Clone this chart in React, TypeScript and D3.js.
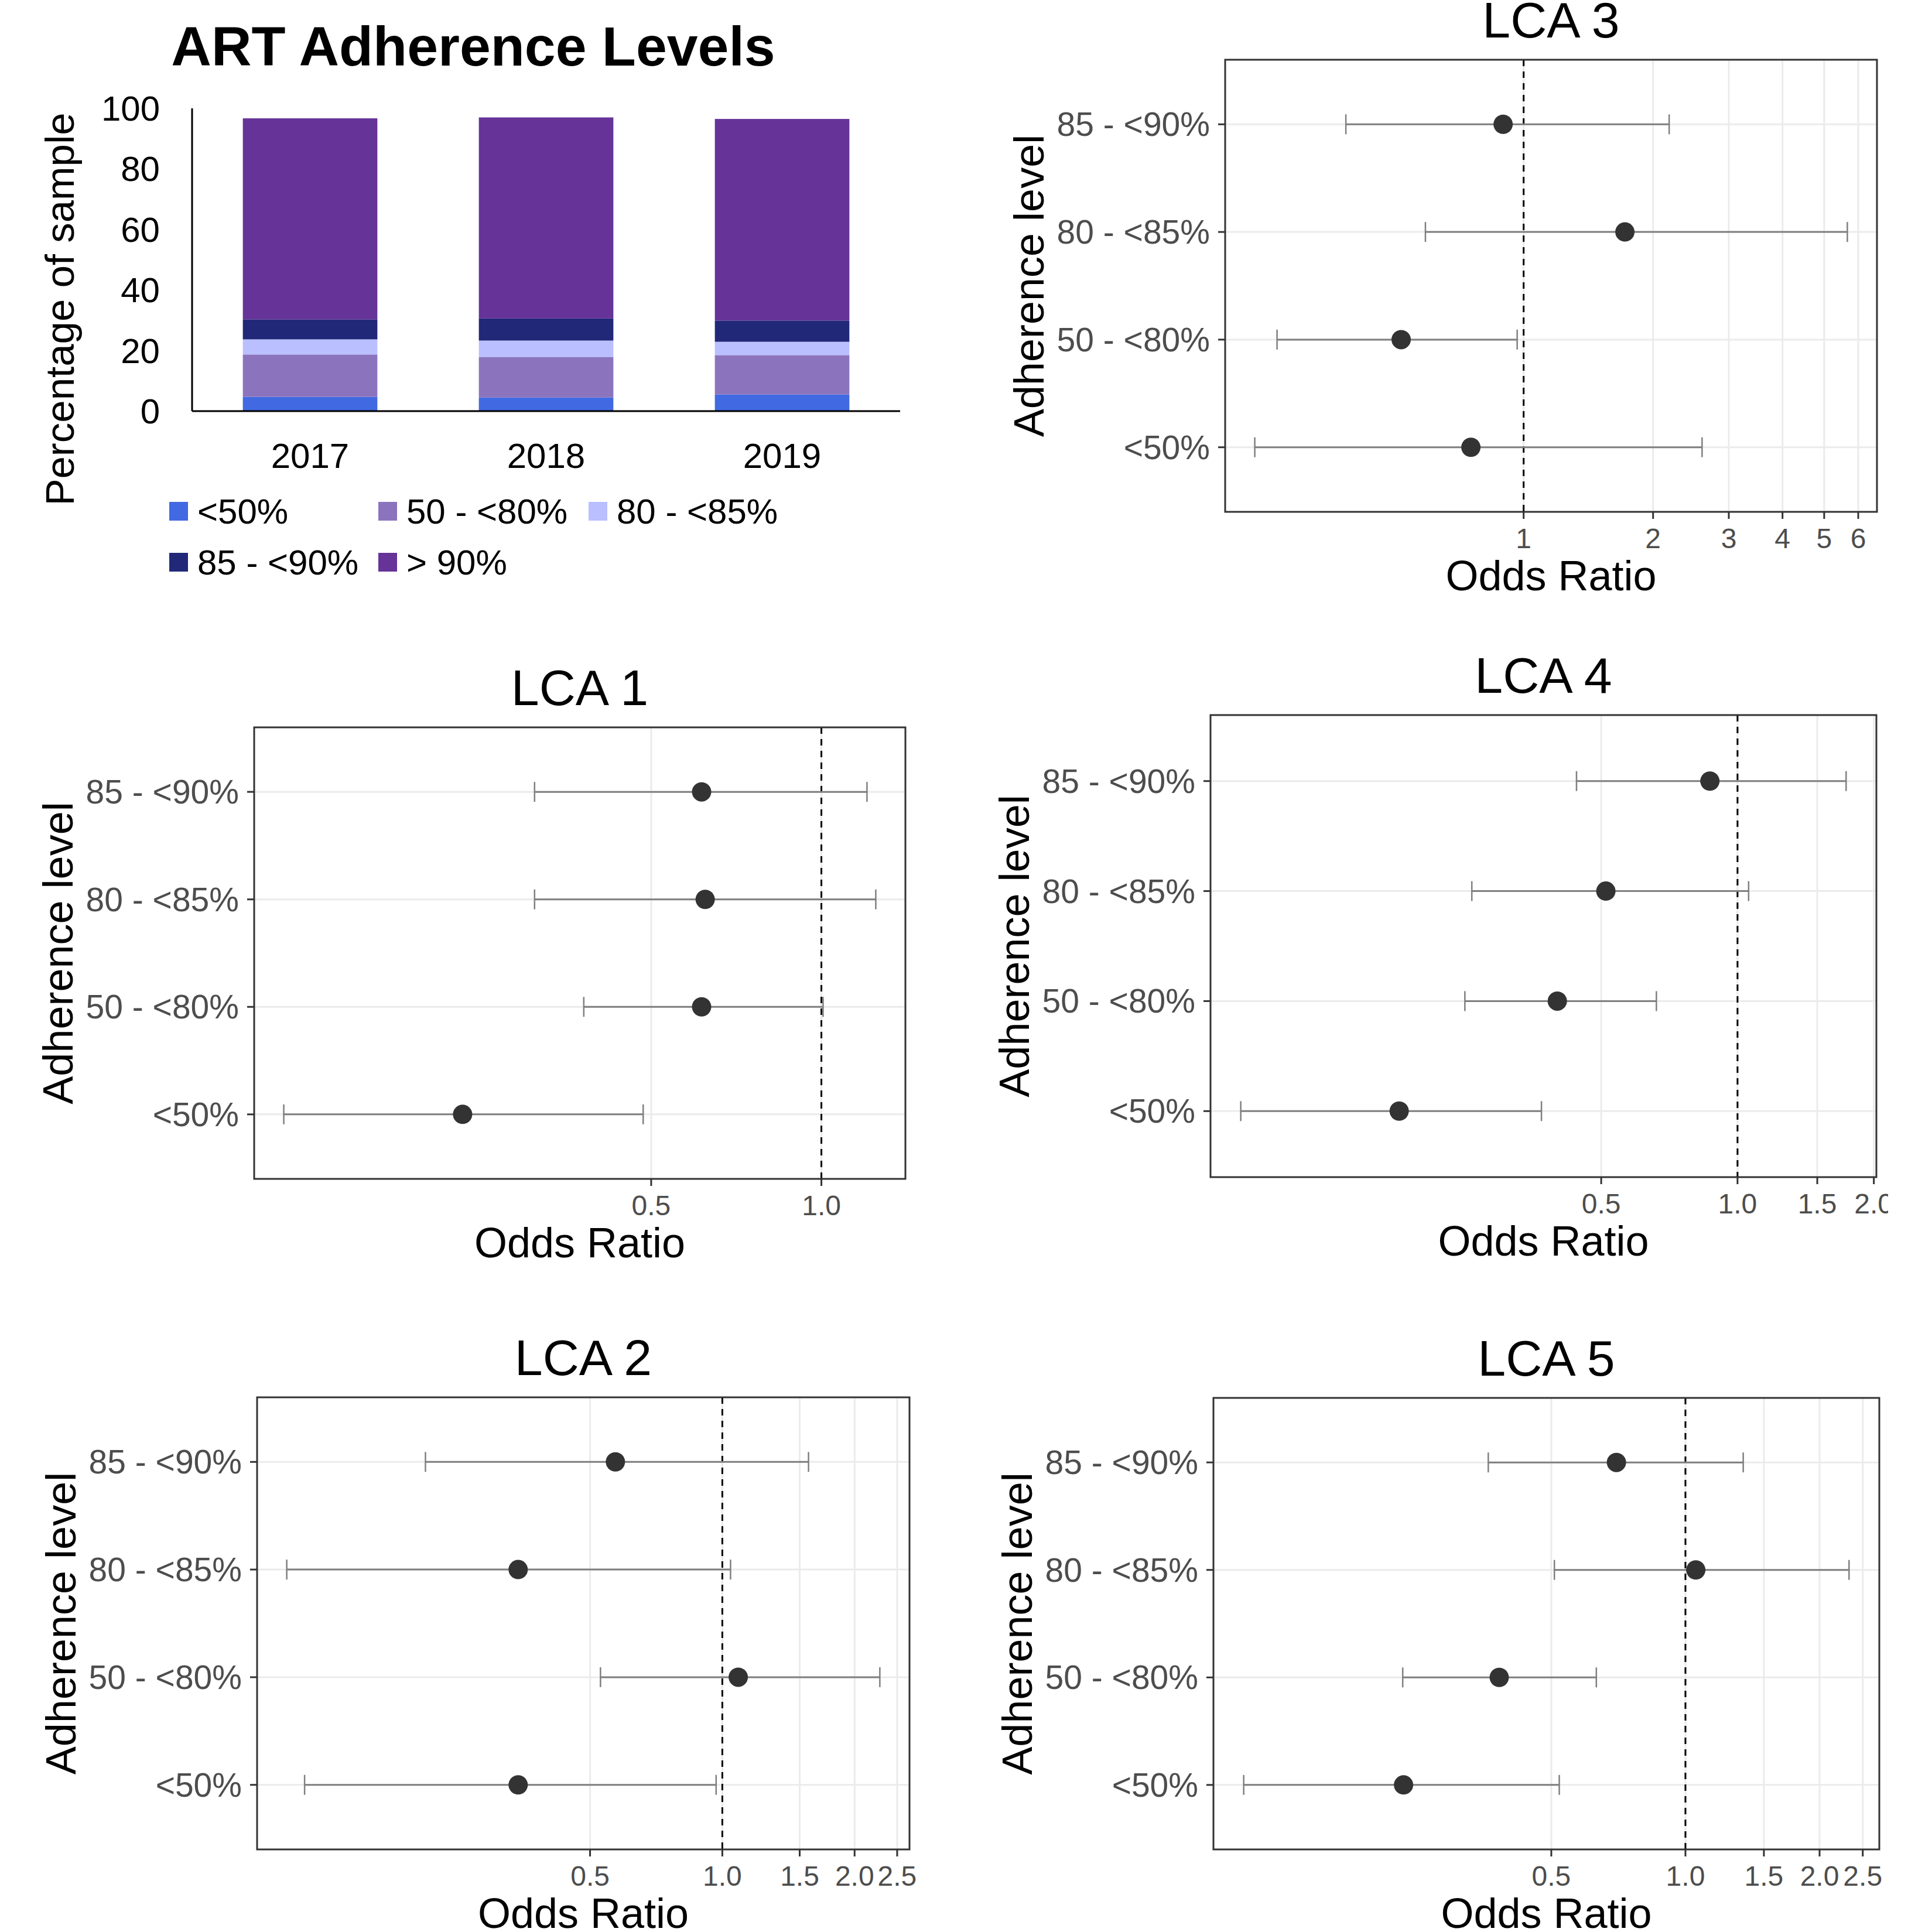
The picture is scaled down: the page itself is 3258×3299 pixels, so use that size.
import React, { useRef, useEffect } from 'react'
import * as d3 from 'd3'

// bar chart data (percentage of sample per year)
const years = ['2017', '2018', '2019']
const adherenceLevels = ['<50%', '50 - <80%', '80 - <85%', '85 - <90%', '> 90%']
const levelColors = ['#4169e1', '#8b74bd', '#babfff', '#212878', '#663399']
const pctUnder50 = [4.7, 4.5, 5.5]
const pct50to80 = [14.0, 13.4, 13.0]
const pct80to85 = [5.0, 5.4, 4.4]
const pct85to90 = [6.6, 7.3, 7.0]
const pctOver90 = [66.4, 66.4, 66.6]
const pctTicks = [0, 20, 40, 60, 80, 100]

// odds ratios, order: <50%, 50 - <80%, 80 - <85%, 85 - <90%
const orLevels = ['<50%', '50 - <80%', '80 - <85%', '85 - <90%']

const lca1OR = [0.232, 0.614, 0.623, 0.614]
const lca1Lo = [0.112, 0.380, 0.311, 0.311]
const lca1Hi = [0.484, 1.007, 1.248, 1.204]
const lca1Ticks = [0.5, 1.0]

const lca2OR = [0.343, 1.087, 0.343, 0.571]
const lca2Lo = [0.112, 0.528, 0.102, 0.211]
const lca2Hi = [0.968, 2.283, 1.044, 1.571]
const lca2Ticks = [0.5, 1.0, 1.5, 2.0, 2.5]

const lca3OR = [0.754, 0.519, 1.72, 0.896]
const lca3Lo = [0.237, 0.267, 0.591, 0.386]
const lca3Hi = [2.60, 0.966, 5.66, 2.18]
const lca3Ticks = [1, 2, 3, 4, 5, 6]

const lca4OR = [0.179, 0.400, 0.512, 0.869]
const lca4Lo = [0.080, 0.250, 0.259, 0.441]
const lca4Hi = [0.369, 0.662, 1.058, 1.737]
const lca4Ticks = [0.5, 1.0, 1.5, 2.0]

const lca5OR = [0.233, 0.382, 1.055, 0.700]
const lca5Lo = [0.102, 0.232, 0.508, 0.361]
const lca5Hi = [0.521, 0.631, 2.329, 1.348]
const lca5Ticks = [0.5, 1.0, 1.5, 2.0, 2.5]

const FONT = "'Liberation Sans', Arial, sans-serif"

const panels = [
    {title: 'LCA 1', or: lca1OR, lo: lca1Lo, hi: lca1Hi, ticks: lca1Ticks, fmt: d3.format('.1f'), box: [434, 1546, 1242, 2013]},
    {title: 'LCA 2', or: lca2OR, lo: lca2Lo, hi: lca2Hi, ticks: lca2Ticks, fmt: d3.format('.1f'), box: [439, 1553, 2386, 3158]},
    {title: 'LCA 3', or: lca3OR, lo: lca3Lo, hi: lca3Hi, ticks: lca3Ticks, fmt: d3.format('d'), box: [2092, 3205, 102, 874]},
    {title: 'LCA 4', or: lca4OR, lo: lca4Lo, hi: lca4Hi, ticks: lca4Ticks, fmt: d3.format('.1f'), box: [2067, 3204, 1221, 2010], clipRight: 3224},
    {title: 'LCA 5', or: lca5OR, lo: lca5Lo, hi: lca5Hi, ticks: lca5Ticks, fmt: d3.format('.1f'), box: [2072, 3209, 2387, 3158]},
]

function drawBars(svg: any) {
    const g = svg.append('g')
    const x = d3.scaleBand().domain(years).range([328, 1537]).paddingInner(0.43).paddingOuter(0.215)
    const y = d3.scaleLinear().domain([0, 100]).range([702, 185])

    const series = [pctUnder50, pct50to80, pct80to85, pct85to90, pctOver90]
    const rows = years.map((yr, i) => {
        const r: any = {year: yr}
        adherenceLevels.forEach((lvl, j) => { r[lvl] = series[j][i] })
        return r
    })
    const stacked = d3.stack().keys(adherenceLevels)(rows)

    g.selectAll('g.layer')
        .data(stacked)
        .join('g')
        .attr('fill', (d: any, i: number) => levelColors[i])
        .selectAll('rect')
        .data((d: any) => d)
        .join('rect')
        .attr('x', (d: any) => x(d.data.year))
        .attr('width', x.bandwidth())
        .attr('y', (d: any) => y(d[1]))
        .attr('height', (d: any) => y(d[0]) - y(d[1]))

    // axis lines
    g.append('line').attr('x1', 328).attr('x2', 328).attr('y1', y(100)).attr('y2', y(0))
        .attr('stroke', '#000').attr('stroke-width', 3)
    g.append('line').attr('x1', 328).attr('x2', 1537).attr('y1', y(0)).attr('y2', y(0))
        .attr('stroke', '#000').attr('stroke-width', 3)

    g.selectAll('text.ytick')
        .data(pctTicks)
        .join('text')
        .attr('x', 273)
        .attr('y', (d: number) => y(d) + 21)
        .attr('text-anchor', 'end')
        .attr('font-size', 60)
        .text((d: number) => d)

    g.selectAll('text.xtick')
        .data(years)
        .join('text')
        .attr('x', (d: string) => x(d)! + x.bandwidth() / 2)
        .attr('y', 799)
        .attr('text-anchor', 'middle')
        .attr('font-size', 60)
        .text((d: string) => d)

    g.append('text')
        .attr('x', 808).attr('y', 112)
        .attr('text-anchor', 'middle')
        .attr('font-size', 95)
        .attr('font-weight', 'bold')
        .text('ART Adherence Levels')

    g.append('text')
        .attr('transform', 'translate(126,528) rotate(-90)')
        .attr('text-anchor', 'middle')
        .attr('font-size', 69)
        .text('Percentage of sample')

    // legend, two rows
    const legendPos = [[289, 873], [646, 873], [1005, 873], [289, 960], [646, 960]]
    const leg = g.selectAll('g.leg')
        .data(adherenceLevels)
        .join('g')
        .attr('transform', (d: string, i: number) => `translate(${legendPos[i][0]},${legendPos[i][1]})`)
    leg.append('rect')
        .attr('x', 0).attr('y', -16).attr('width', 32).attr('height', 32)
        .attr('fill', (d: string, i: number) => levelColors[i])
    leg.append('text')
        .attr('x', 48).attr('y', 21)
        .attr('font-size', 60)
        .text((d: string) => d)
}

function drawForest(svg: any, p: any, idx: number) {
    const [x0, x1, y0, y1] = p.box
    let g = svg.append('g')
    if (p.clipRight) {
        svg.append('clipPath').attr('id', 'clip' + idx)
            .append('rect').attr('x', 0).attr('y', 0).attr('width', p.clipRight).attr('height', 3299)
        g.attr('clip-path', `url(#clip${idx})`)
    }

    const logs = p.lo.concat(p.hi).map(Math.log)
    const lmin = d3.min(logs) as number
    const lmax = d3.max(logs) as number
    const pad = (lmax - lmin) * 0.05
    const x = d3.scaleLog().domain([Math.exp(lmin - pad), Math.exp(lmax + pad)]).range([x0, x1])
    const y = d3.scalePoint().domain([...orLevels].reverse()).range([y0, y1]).padding(0.6)

    const rows = orLevels.map((lvl, i) => ({lvl, or: p.or[i], lo: p.lo[i], hi: p.hi[i]}))

    // grid
    g.selectAll('line.hgrid').data(orLevels).join('line')
        .attr('x1', x0).attr('x2', x1)
        .attr('y1', (d: string) => y(d)).attr('y2', (d: string) => y(d))
        .attr('stroke', '#ebebeb').attr('stroke-width', 3)
    g.selectAll('line.vgrid').data(p.ticks).join('line')
        .attr('x1', (d: number) => x(d)).attr('x2', (d: number) => x(d))
        .attr('y1', y0).attr('y2', y1)
        .attr('stroke', '#ebebeb').attr('stroke-width', 3)

    // reference line at OR = 1
    g.append('line')
        .attr('x1', x(1)).attr('x2', x(1)).attr('y1', y0).attr('y2', y1)
        .attr('stroke', '#000').attr('stroke-width', 3).attr('stroke-dasharray', '11,9')

    // error bars
    const eb = g.selectAll('g.eb').data(rows).join('g')
    eb.append('line')
        .attr('x1', (d: any) => x(d.lo)).attr('x2', (d: any) => x(d.hi))
        .attr('y1', (d: any) => y(d.lvl)).attr('y2', (d: any) => y(d.lvl))
        .attr('stroke', '#7f7f7f').attr('stroke-width', 3)
    eb.append('line')
        .attr('x1', (d: any) => x(d.lo)).attr('x2', (d: any) => x(d.lo))
        .attr('y1', (d: any) => y(d.lvl)! - 17).attr('y2', (d: any) => y(d.lvl)! + 17)
        .attr('stroke', '#7f7f7f').attr('stroke-width', 2.5)
    eb.append('line')
        .attr('x1', (d: any) => x(d.hi)).attr('x2', (d: any) => x(d.hi))
        .attr('y1', (d: any) => y(d.lvl)! - 17).attr('y2', (d: any) => y(d.lvl)! + 17)
        .attr('stroke', '#7f7f7f').attr('stroke-width', 2.5)
    eb.append('circle')
        .attr('cx', (d: any) => x(d.or)).attr('cy', (d: any) => y(d.lvl))
        .attr('r', 16.5).attr('fill', '#333333')

    // panel border
    g.append('rect')
        .attr('x', x0).attr('y', y0).attr('width', x1 - x0).attr('height', y1 - y0)
        .attr('fill', 'none').attr('stroke', '#333333').attr('stroke-width', 3)

    // y ticks and labels
    g.selectAll('line.ytick').data(orLevels).join('line')
        .attr('x1', x0 - 12).attr('x2', x0)
        .attr('y1', (d: string) => y(d)).attr('y2', (d: string) => y(d))
        .attr('stroke', '#333333').attr('stroke-width', 3)
    g.selectAll('text.ylab').data(orLevels).join('text')
        .attr('x', x0 - 26).attr('y', (d: string) => y(d)! + 20)
        .attr('text-anchor', 'end').attr('font-size', 57).attr('fill', '#4d4d4d')
        .text((d: string) => d)

    // x ticks and labels
    g.selectAll('line.xtick').data(p.ticks).join('line')
        .attr('x1', (d: number) => x(d)).attr('x2', (d: number) => x(d))
        .attr('y1', y1).attr('y2', y1 + 12)
        .attr('stroke', '#333333').attr('stroke-width', 3)
    g.selectAll('text.xlab').data(p.ticks).join('text')
        .attr('x', (d: number) => x(d)).attr('y', y1 + 62)
        .attr('text-anchor', 'middle').attr('font-size', 48).attr('fill', '#4d4d4d')
        .text((d: number) => p.fmt(d))

    // titles
    g.append('text')
        .attr('x', (x0 + x1) / 2).attr('y', y0 - 38)
        .attr('text-anchor', 'middle').attr('font-size', 86)
        .text(p.title)
    g.append('text')
        .attr('x', (x0 + x1) / 2).attr('y', y1 + 134)
        .attr('text-anchor', 'middle').attr('font-size', 72)
        .text('Odds Ratio')
    g.append('text')
        .attr('transform', `translate(${x0 - 310},${(y0 + y1) / 2}) rotate(-90)`)
        .attr('text-anchor', 'middle').attr('font-size', 72)
        .text('Adherence level')
}

const App = () => {
    const element = useRef<SVGSVGElement>(null)

    useEffect(() => {
        const svg = d3.select(element.current)
        svg.selectAll('*').remove()
        drawBars(svg)
        panels.forEach((p, i) => drawForest(svg, p, i))
        return () => { svg.selectAll('*').remove() }
    }, [])

    return (
        <svg
            ref={element}
            width={3258}
            height={3299}
            style={{position: 'absolute', left: 0, top: 0, background: '#fff', fontFamily: FONT}}
        />
    )
}

export default App
